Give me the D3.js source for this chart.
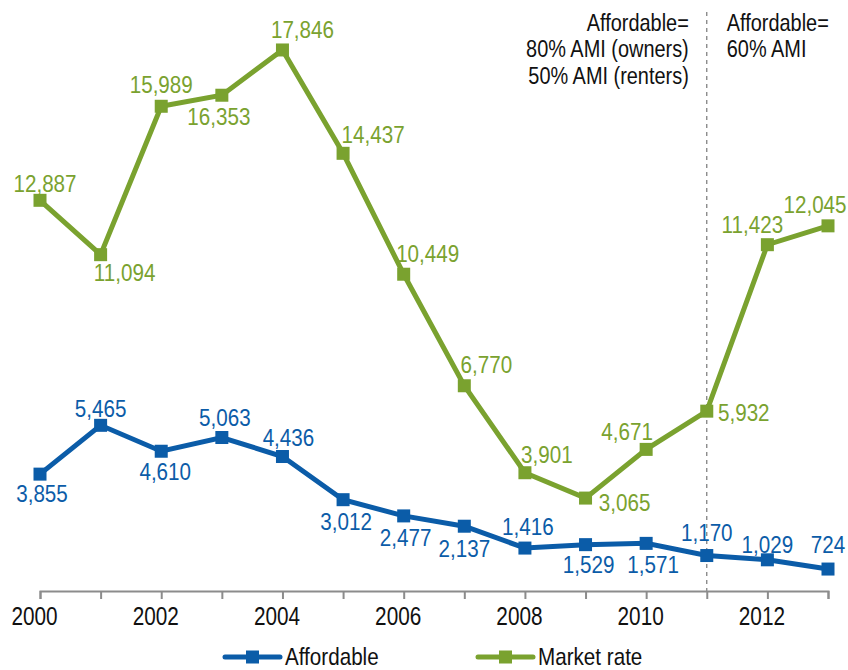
<!DOCTYPE html>
<html>
<head>
<meta charset="utf-8">
<script src="https://cdn.jsdelivr.net/npm/d3@7"></script>
<style>
	html, body { margin: 0; padding: 0; background: #fff; }
	text { font-family: "Liberation Sans", Arial, sans-serif; }
</style>
</head>
<body>
<div id="chart"></div>
<script>
(function () {

	'use strict';

	// data
	let years = [2000, 2001, 2002, 2003, 2004, 2005, 2006, 2007, 2008, 2009, 2010, 2011, 2012, 2013];
	let affordable = [3855, 5465, 4610, 5063, 4436, 3012, 2477, 2137, 1416, 1529, 1571, 1170, 1029, 724];
	let marketRate = [12887, 11094, 15989, 16353, 17846, 14437, 10449, 6770, 3901, 3065, 4671, 5932, 11423, 12045];
	let tickYears = [2000, 2002, 2004, 2006, 2008, 2010, 2012];
	let seriesNames = ['Affordable', 'Market rate'];
	let noteLeft = ['Affordable=', '80% AMI (owners)', '50% AMI (renters)'];
	let noteRight = ['Affordable=', '60% AMI'];
	let splitYear = 2011;

	// label placement (px offsets from the marker)
	let affordableLabelOffsets = [[2, 28], [0, -8], [4, 29], [3, -12], [6, -11], [3, 30], [2, 30], [0, 31], [3, -13], [3, 28], [7, 30], [0, -15], [0, -7], [0, -16]];
	let marketLabelOffsets = [[5, -8], [24, 26], [0, -13], [-3, 30], [20, -12], [30, -10], [24, -12], [22, -13], [22, -10], [39, 13], [-19, -9], [37, 10], [-15, -12], [-13, -13]];

	let width = 848, height = 670;
	let blue = '#0b5ca8', green = '#7aa22f';

	let x = d3.scaleLinear().domain([2000, 2013]).range([40, 828]);
	let y = d3.scaleLinear().domain([0, 18000]).range([591, 45.3]);

	// no narrow font installed, so squeeze text horizontally
	function place(px, py, k) {
		return 'translate(' + px + ',' + py + ') scale(' + (k || 0.85) + ',1)';
	}

	let svg = d3.select('#chart').append('svg')
		.attr('width', width)
		.attr('height', height);

	// dashed split line
	svg.append('line')
		.attr('x1', x(splitYear)).attr('x2', x(splitYear))
		.attr('y1', 12).attr('y2', y(0))
		.attr('stroke', '#777')
		.attr('stroke-width', 1.2)
		.attr('stroke-dasharray', '4,4');

	// notes
	svg.append('text')
		.attr('transform', place(x(splitYear) - 18, 31, 0.83))
		.attr('text-anchor', 'end')
		.attr('font-size', 24)
		.attr('fill', '#111')
		.selectAll('tspan')
		.data(noteLeft)
		.join('tspan')
		.attr('x', 0)
		.attr('y', function (d, i) { return i * 26.5; })
		.text(function (d) { return d; });

	svg.append('text')
		.attr('transform', place(x(splitYear) + 20, 31, 0.83))
		.attr('text-anchor', 'start')
		.attr('font-size', 24)
		.attr('fill', '#111')
		.selectAll('tspan')
		.data(noteRight)
		.join('tspan')
		.attr('x', 0)
		.attr('y', function (d, i) { return i * 26.5; })
		.text(function (d) { return d; });

	// x axis
	let axis = svg.append('g')
		.attr('transform', 'translate(0,' + y(0) + ')')
		.call(d3.axisBottom(x)
			.tickValues(years)
			.tickSize(8)
			.tickFormat(function (d) { return tickYears.indexOf(d) >= 0 ? d : ''; }));

	axis.attr('font-family', null);
	axis.select('.domain').attr('stroke', '#8c8c8c').attr('stroke-width', 2);
	axis.selectAll('.tick line').attr('stroke', '#8c8c8c').attr('stroke-width', 2);
	axis.selectAll('.tick text')
		.attr('font-size', 25)
		.attr('fill', '#111')
		.attr('y', 0)
		.attr('dy', 0)
		.attr('transform', place(-6, 34, 0.83));

	let fmt = d3.format(',');
	let line = d3.line()
		.x(function (d, i) { return x(years[i]); })
		.y(function (d) { return y(d); });

	function drawSeries(values, color, offsets) {
		let g = svg.append('g');
		g.append('path')
			.datum(values)
			.attr('d', line)
			.attr('fill', 'none')
			.attr('stroke', color)
			.attr('stroke-width', 5)
			.attr('stroke-linejoin', 'miter');
		g.selectAll('rect')
			.data(values)
			.join('rect')
			.attr('x', function (d, i) { return x(years[i]) - 6.5; })
			.attr('y', function (d) { return y(d) - 6.5; })
			.attr('width', 13)
			.attr('height', 13)
			.attr('fill', color);
		g.selectAll('text')
			.data(values)
			.join('text')
			.attr('transform', function (d, i) {
				return place(x(years[i]) + offsets[i][0], y(d) + offsets[i][1], 0.86);
			})
			.attr('text-anchor', 'middle')
			.attr('font-size', 24)
			.attr('fill', color)
			.text(function (d) { return fmt(d); });
	}

	drawSeries(marketRate, green, marketLabelOffsets);
	drawSeries(affordable, blue, affordableLabelOffsets);

	// legend
	let legendX = [225, 478];
	let legendColors = [blue, green];
	let legend = svg.append('g');
	seriesNames.forEach(function (name, i) {
		let lg = legend.append('g').attr('transform', 'translate(' + legendX[i] + ',657)');
		lg.append('line')
			.attr('x1', 0).attr('x2', 55)
			.attr('stroke', legendColors[i])
			.attr('stroke-width', 5)
			.attr('stroke-linecap', 'round');
		lg.append('rect')
			.attr('x', 21).attr('y', -6.5)
			.attr('width', 13).attr('height', 13)
			.attr('fill', legendColors[i]);
		lg.append('text')
			.attr('transform', place(60, 8, 0.86))
			.attr('font-size', 24)
			.attr('fill', '#111')
			.text(name);
	});

})();
</script>
</body>
</html>
